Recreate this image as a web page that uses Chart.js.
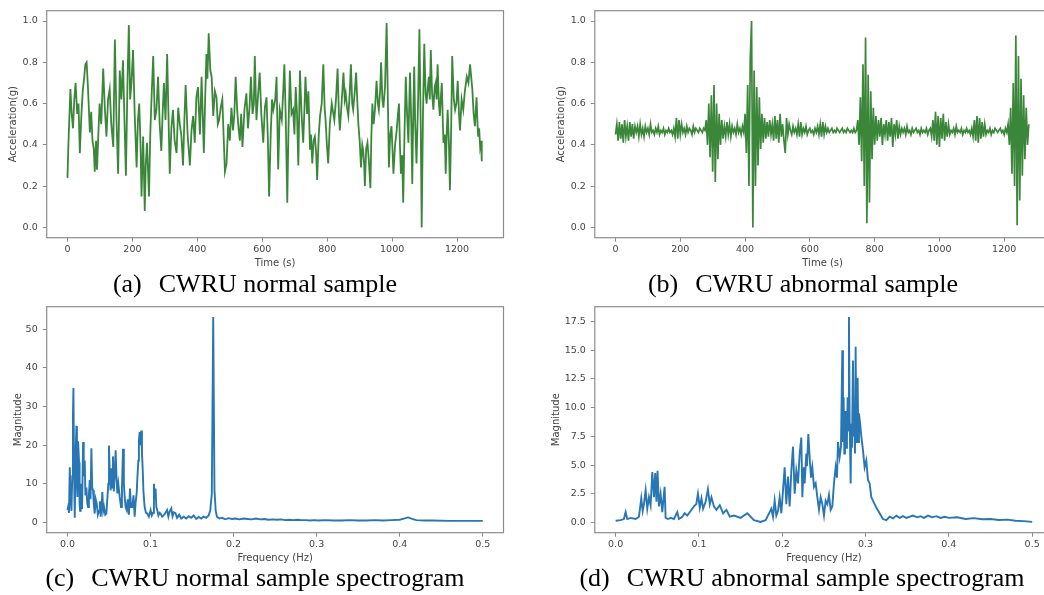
<!DOCTYPE html>
<html>
<head>
<meta charset="utf-8">
<script src="https://cdn.jsdelivr.net/npm/chart.js@4.4.0/dist/chart.umd.min.js"></script>
<style>
  html, body { margin: 0; padding: 0; background: #fff; }
  body { width: 1044px; height: 595px; position: relative; overflow: hidden; }
  canvas { position: absolute; }
  .cap {
    position: absolute;
    font-family: "Liberation Serif", "Times New Roman", serif;
    font-size: 26px;
    line-height: 26px;
    white-space: nowrap;
    color: #000;
    transform: translateX(-50%);
  }
  .cap span { margin-right: 17px; }
</style>
</head>
<body>
<canvas id="chartA" width="510" height="272" style="left:0;top:0"></canvas>
<canvas id="chartB" width="520" height="272" style="left:548px;top:0"></canvas>
<canvas id="chartC" width="510" height="272" style="left:0;top:296px"></canvas>
<canvas id="chartD" width="520" height="272" style="left:548px;top:296px"></canvas>

<div class="cap" style="left:255px;top:271px"><span>(a)</span>CWRU normal sample</div>
<div class="cap" style="left:803px;top:271px"><span>(b)</span>CWRU abnormal sample</div>
<div class="cap" style="left:255px;top:565px"><span>(c)</span>CWRU normal sample spectrogram</div>
<div class="cap" style="left:802px;top:565px"><span>(d)</span>CWRU abnormal sample spectrogram</div>

<script>
// (a) normal sample, time (s) / acceleration (g)
const timeA = [
  0, 3, 9, 13, 17, 21, 25, 30, 34, 38,
  43, 47, 51, 55, 59, 63, 69, 73, 77, 81,
  84, 88, 91, 95, 99, 104, 110, 115, 120, 125,
  130, 135, 141, 146, 151, 156, 161, 166, 171, 175,
  180, 185, 189, 193, 197, 202, 207, 213, 217, 221,
  225, 228, 233, 238, 241, 245, 251, 255, 259, 264,
  269, 274, 279, 284, 289, 293, 297, 302, 307, 311,
  315, 320, 325, 330, 336, 341, 346, 351, 356, 360,
  364, 370, 377, 382, 387, 392, 397, 402, 408, 413,
  417, 420, 424, 428, 431, 435, 440, 444, 449, 454,
  459, 463, 467, 472, 477, 481, 485, 490, 495, 500,
  505, 510, 514, 518, 523, 527, 531, 535, 539, 545,
  551, 556, 561, 565, 570, 574, 577, 582, 587, 592,
  597, 603, 608, 613, 617, 621, 626, 630, 634, 640,
  644, 649, 654, 660, 664, 668, 672, 677, 681, 685,
  690, 695, 699, 703, 707, 711, 716, 721, 726, 730,
  733, 738, 742, 747, 750, 754, 758, 762, 766, 769,
  774, 778, 783, 788, 792, 795, 799, 803, 808, 814,
  818, 822, 827, 832, 836, 839, 845, 850, 854, 857,
  861, 865, 869, 873, 877, 880, 885, 889, 893, 896,
  900, 904, 908, 911, 914, 916, 920, 924, 928, 933,
  936, 939, 943, 947, 952, 956, 959, 963, 966, 970,
  973, 978, 983, 987, 990, 994, 998, 1001, 1004, 1009,
  1014, 1018, 1021, 1024, 1027, 1031, 1034, 1038, 1042, 1046,
  1050, 1055, 1059, 1062, 1065, 1068, 1071, 1075, 1080, 1084,
  1088, 1091, 1095, 1099, 1103, 1106, 1110, 1113, 1116, 1119,
  1123, 1127, 1131, 1134, 1137, 1140, 1144, 1147, 1150, 1153,
  1156, 1158, 1162, 1165, 1168, 1171, 1175, 1178, 1182, 1185,
  1190, 1194, 1198, 1202, 1206, 1209, 1214, 1219, 1224, 1230,
  1235, 1240, 1244, 1247, 1251, 1255, 1258, 1260, 1263, 1265,
  1268, 1271, 1274, 1276
];
const accelA = [
  0.24, 0.41, 0.67, 0.55, 0.48, 0.62, 0.70, 0.55, 0.60, 0.36,
  0.55, 0.66, 0.72, 0.79, 0.80, 0.68, 0.46, 0.56, 0.42, 0.38,
  0.27, 0.42, 0.28, 0.45, 0.60, 0.50, 0.77, 0.58, 0.44, 0.62,
  0.67, 0.50, 0.39, 0.91, 0.52, 0.26, 0.76, 0.62, 0.81, 0.55,
  0.25, 0.72, 0.98, 0.62, 0.70, 0.86, 0.55, 0.29, 0.52, 0.60,
  0.40, 0.15, 0.44, 0.08, 0.30, 0.41, 0.15, 0.45, 0.63, 0.83,
  0.52, 0.57, 0.73, 0.50, 0.37, 0.55, 0.70, 0.52, 0.84, 0.55,
  0.26, 0.48, 0.57, 0.42, 0.36, 0.58, 0.50, 0.44, 0.30, 0.52,
  0.69, 0.45, 0.30, 0.47, 0.54, 0.41, 0.63, 0.68, 0.45, 0.73,
  0.52, 0.36, 0.62, 0.84, 0.72, 0.94, 0.76, 0.73, 0.54, 0.66,
  0.63, 0.50, 0.52, 0.58, 0.62, 0.44, 0.27, 0.31, 0.50, 0.42,
  0.58, 0.47, 0.55, 0.73, 0.56, 0.48, 0.42, 0.55, 0.39, 0.57,
  0.65, 0.48, 0.59, 0.73, 0.55, 0.60, 0.83, 0.52, 0.64, 0.75,
  0.55, 0.41, 0.58, 0.63, 0.44, 0.15, 0.45, 0.62, 0.57, 0.62,
  0.73, 0.28, 0.57, 0.52, 0.64, 0.79, 0.55, 0.12, 0.50, 0.76,
  0.55, 0.57, 0.45, 0.68, 0.55, 0.30, 0.76, 0.55, 0.41, 0.58,
  0.73, 0.55, 0.66, 0.38, 0.45, 0.31, 0.42, 0.44, 0.36, 0.23,
  0.45, 0.54, 0.60, 0.79, 0.58, 0.52, 0.40, 0.31, 0.50, 0.60,
  0.56, 0.52, 0.62, 0.77, 0.55, 0.47, 0.62, 0.75, 0.62, 0.65,
  0.58, 0.54, 0.64, 0.79, 0.60, 0.57, 0.66, 0.75, 0.60, 0.50,
  0.42, 0.29, 0.40, 0.37, 0.30, 0.20, 0.38, 0.41, 0.33, 0.19,
  0.44, 0.60, 0.50, 0.57, 0.71, 0.60, 0.57, 0.66, 0.80, 0.62,
  0.58, 0.68, 0.99, 0.60, 0.29, 0.45, 0.49, 0.38, 0.26, 0.40,
  0.47, 0.55, 0.60, 0.40, 0.26, 0.35, 0.12, 0.45, 0.73, 0.55,
  0.41, 0.75, 0.50, 0.21, 0.55, 0.78, 0.50, 0.31, 0.62, 0.96,
  0.50, 0.00, 0.55, 0.89, 0.65, 0.60, 0.68, 0.73, 0.62, 0.86,
  0.65, 0.57, 0.68, 0.70, 0.62, 0.79, 0.60, 0.54, 0.63, 0.70,
  0.52, 0.41, 0.45, 0.26, 0.45, 0.57, 0.40, 0.18, 0.50, 0.83,
  0.62, 0.57, 0.60, 0.71, 0.55, 0.47, 0.62, 0.57, 0.66, 0.73,
  0.70, 0.79, 0.72, 0.67, 0.55, 0.49, 0.58, 0.63, 0.50, 0.44,
  0.48, 0.39, 0.42, 0.32
];

// (b) abnormal sample, one reading every stepB seconds
const stepB = 4;
const accelB = [
  0.45, 0.50, 0.42, 0.51, 0.43, 0.50, 0.41, 0.52, 0.44, 0.49, 0.42, 0.51, 0.44, 0.50, 0.43, 0.49,
  0.46, 0.49, 0.44, 0.50, 0.45, 0.48, 0.44, 0.49, 0.46, 0.48, 0.45, 0.50, 0.46, 0.47, 0.45,
  0.48, 0.46, 0.49, 0.45, 0.47, 0.46, 0.48, 0.45, 0.47, 0.46, 0.48, 0.46, 0.47, 0.45, 0.48,
  0.44, 0.53, 0.43, 0.52, 0.45, 0.50,
  0.46, 0.48, 0.45, 0.49, 0.46, 0.48, 0.47, 0.45, 0.49, 0.46, 0.48, 0.47, 0.46, 0.48, 0.47, 0.46, 0.48, 0.47,
  0.52, 0.40, 0.60, 0.34, 0.64, 0.27, 0.69, 0.22, 0.60, 0.33, 0.55,
  0.40, 0.52, 0.43,
  0.49, 0.44, 0.51, 0.45, 0.50, 0.44, 0.49, 0.46, 0.48, 0.45, 0.50, 0.46, 0.48, 0.45, 0.49, 0.46,
  0.55, 0.36, 0.69, 0.20, 0.82, 1.00, 0.00, 0.76, 0.20, 0.68, 0.30, 0.63, 0.38,
  0.55, 0.41, 0.53, 0.43, 0.51, 0.44, 0.52, 0.45,
  0.50, 0.42, 0.54, 0.43, 0.52, 0.41, 0.55, 0.44, 0.50, 0.42, 0.36, 0.53, 0.45, 0.50,
  0.47, 0.45, 0.49, 0.46, 0.48, 0.45, 0.50, 0.44, 0.51, 0.45,
  0.48, 0.46, 0.49, 0.45, 0.47, 0.48, 0.46, 0.47, 0.45, 0.48,
  0.46, 0.49, 0.45, 0.50, 0.44, 0.51, 0.45, 0.49, 0.46, 0.48,
  0.46, 0.47, 0.48, 0.46, 0.47, 0.46, 0.48, 0.47, 0.46, 0.47,
  0.48, 0.46, 0.47, 0.46, 0.48, 0.47, 0.46, 0.47, 0.46, 0.48,
  0.46, 0.47,
  0.52, 0.40, 0.63, 0.32, 0.79, 0.20, 0.92, 0.02, 0.74, 0.12, 0.66, 0.33, 0.58, 0.40, 0.54, 0.42,
  0.52, 0.44, 0.53, 0.40, 0.50, 0.45, 0.52, 0.42, 0.51, 0.44,
  0.53, 0.39, 0.50, 0.45, 0.52, 0.43, 0.49, 0.45, 0.48, 0.46,
  0.48, 0.45, 0.49, 0.46, 0.47, 0.45, 0.48, 0.46, 0.47, 0.48,
  0.46, 0.47, 0.45, 0.48, 0.46, 0.47, 0.46, 0.48, 0.45, 0.47,
  0.48, 0.44, 0.52, 0.42, 0.56, 0.40, 0.54, 0.39, 0.53, 0.43, 0.55, 0.42, 0.51, 0.44, 0.50, 0.45,
  0.47, 0.46, 0.48, 0.45, 0.49, 0.46, 0.47, 0.46, 0.48, 0.45, 0.47, 0.46, 0.48, 0.46, 0.47, 0.45, 0.48,
  0.44, 0.52, 0.42, 0.54, 0.41, 0.53, 0.43, 0.51, 0.44, 0.50, 0.45,
  0.47, 0.46, 0.48, 0.45, 0.47, 0.46, 0.48, 0.47, 0.46, 0.47, 0.48, 0.46, 0.47, 0.45, 0.48, 0.46,
  0.50, 0.40, 0.58, 0.26, 0.70, 0.20, 0.93, 0.01, 0.83, 0.13, 0.72, 0.25, 0.64, 0.33, 0.58, 0.40, 0.50
];

// (c) normal sample spectrum, frequency (Hz) / magnitude
const freqC = [
  0, 0.0008, 0.0018, 0.0028, 0.0038, 0.0048, 0.0058, 0.0066, 0.0072, 0.0080,
  0.0088, 0.0098, 0.0108, 0.0114, 0.0120, 0.0128, 0.0140, 0.0146, 0.0152, 0.0160,
  0.0168, 0.0176, 0.0188, 0.0196, 0.0208, 0.0216, 0.0228, 0.0238, 0.0248, 0.0258,
  0.0268, 0.0278, 0.0288, 0.0298, 0.0308, 0.0318, 0.0328, 0.0340, 0.0352, 0.0366,
  0.0380, 0.0390, 0.0400, 0.0410, 0.0420, 0.0430, 0.0440, 0.0455, 0.0468, 0.0480,
  0.0492, 0.0500, 0.0510, 0.0520, 0.0530, 0.0540, 0.0548, 0.0558, 0.0568, 0.0580,
  0.0590, 0.0600, 0.0612, 0.0629, 0.0645, 0.0656, 0.0669, 0.0679, 0.0689, 0.0700,
  0.0713, 0.0725, 0.0740, 0.0753, 0.0765, 0.0781, 0.0795, 0.0809, 0.0820, 0.0833,
  0.0843, 0.0853, 0.0860, 0.0869, 0.0878, 0.0889, 0.0897, 0.0905, 0.0915, 0.0929,
  0.0945, 0.0961, 0.0980, 0.1001, 0.1015, 0.1030, 0.1041, 0.1050, 0.1061, 0.1070,
  0.1081, 0.1095, 0.1110, 0.1121, 0.1140, 0.1160, 0.1180, 0.1200, 0.1215, 0.1230,
  0.1250, 0.1265, 0.1280, 0.1300, 0.1320, 0.1345, 0.1370, 0.1400, 0.1430, 0.1460,
  0.1490, 0.1520, 0.1550, 0.1580, 0.1610, 0.1640, 0.1670, 0.1700, 0.1720, 0.1738,
  0.1755, 0.1770, 0.1785, 0.1800, 0.1830, 0.1860, 0.1900, 0.1940, 0.1980, 0.2020,
  0.2070, 0.2120, 0.2170, 0.2220, 0.2270, 0.2320, 0.2370, 0.2420, 0.2470, 0.2520,
  0.2570, 0.2620, 0.2670, 0.2720, 0.2770, 0.2820, 0.2870, 0.2920, 0.2970, 0.3020,
  0.3100, 0.3200, 0.3300, 0.3400, 0.3500, 0.3600, 0.3700, 0.3800, 0.3900, 0.4000,
  0.4050, 0.4100, 0.4150, 0.4200, 0.4300, 0.4400, 0.4600, 0.4800, 0.5000
];
const magC = [
  3.2, 4.0, 2.5, 14.3, 6.0, 3.0, 12.0, 28.0, 34.8, 12.0,
  1.2, 18.0, 25.0, 10.0, 6.6, 21.0, 15.6, 5.0, 3.0, 8.0,
  10.0, 3.5, 20.8, 12.0, 16.0, 7.0, 9.0, 5.0, 4.0, 7.0,
  11.0, 6.0, 19.2, 9.0, 8.3, 4.5, 2.3, 6.0, 4.9, 2.0,
  3.0, 5.5, 1.5, 4.0, 7.9, 3.0, 4.0, 2.0, 2.3, 6.0,
  10.0, 19.9, 12.0, 8.3, 14.0, 9.0, 17.1, 8.0, 11.8, 18.7,
  12.0, 7.5, 10.0, 6.6, 4.0, 9.0, 19.1, 10.0, 6.6, 4.0,
  3.2, 6.0, 2.0, 8.8, 4.0, 4.0, 7.0, 1.5, 5.0, 7.5,
  12.0, 16.0, 21.0, 23.4, 20.0, 23.8, 18.0, 14.3, 8.0, 4.0,
  2.5, 2.3, 1.5, 3.2, 1.8, 2.5, 10.0, 6.0, 8.8, 4.0,
  3.2, 1.8, 2.5, 2.3, 1.5, 1.9, 2.5, 3.2, 1.5, 2.8,
  3.6, 1.6, 2.6, 2.4, 1.2, 2.0, 1.0, 1.5, 1.0, 1.6,
  1.2, 1.8, 0.9, 1.4, 1.0, 1.5, 1.2, 1.8, 3.2, 7.5,
  53.2, 8.3, 3.0, 1.5, 1.0, 1.2, 0.8, 1.1, 0.9, 1.0,
  0.8, 1.0, 0.9, 0.8, 1.0, 0.8, 0.9, 0.7, 0.8, 0.7,
  0.8, 0.6, 0.7, 0.6, 0.7, 0.6, 0.6, 0.5, 0.6, 0.5,
  0.6, 0.5, 0.5, 0.6, 0.5, 0.5, 0.6, 0.5, 0.6, 0.7,
  1.0, 1.3, 0.9, 0.6, 0.5, 0.5, 0.4, 0.4, 0.4
];

// (d) abnormal sample spectrum
const freqD = [
  0, 0.006, 0.010, 0.012, 0.014, 0.018, 0.024, 0.028, 0.0308, 0.0325,
  0.034, 0.036, 0.038, 0.040, 0.042, 0.044, 0.046, 0.0475, 0.049, 0.0503,
  0.052, 0.054, 0.056, 0.0588, 0.060, 0.063, 0.066, 0.070, 0.074, 0.076,
  0.080, 0.083, 0.086, 0.090, 0.094, 0.0968, 0.0988, 0.101, 0.103, 0.105,
  0.108, 0.1108, 0.113, 0.115, 0.118, 0.121, 0.125, 0.129, 0.133, 0.137,
  0.142, 0.150, 0.158, 0.166, 0.174, 0.180, 0.1849, 0.1869, 0.1889, 0.1909,
  0.1929, 0.1949, 0.1969, 0.1989, 0.2009, 0.2029, 0.2049, 0.2069, 0.2089, 0.2109,
  0.2129, 0.2149, 0.2169, 0.2189, 0.2209, 0.2229, 0.2241, 0.2257, 0.2269, 0.2289,
  0.2297, 0.2313, 0.2329, 0.2345, 0.2361, 0.2381, 0.2401, 0.2421, 0.2441, 0.2461,
  0.2481, 0.2501, 0.2521, 0.2541, 0.2561, 0.2581, 0.2601, 0.2621, 0.2641, 0.2657,
  0.2669, 0.2689, 0.2705, 0.2721, 0.2729, 0.2737, 0.2745, 0.2753, 0.2761, 0.2769,
  0.2777, 0.2785, 0.2793, 0.2801, 0.2809, 0.2821, 0.2829, 0.2837, 0.2849, 0.2857,
  0.2865, 0.2873, 0.2881, 0.2889, 0.2897, 0.2905, 0.2913, 0.2921, 0.2935, 0.2949,
  0.2969, 0.2989, 0.3009, 0.3029, 0.3049, 0.3069, 0.3089, 0.3109, 0.3129, 0.3169,
  0.3209, 0.3249, 0.3289, 0.3330, 0.3369, 0.3410, 0.3449, 0.3490, 0.3569, 0.3620,
  0.3660, 0.3700, 0.3750, 0.3800, 0.3850, 0.3900, 0.3950, 0.4000, 0.4100, 0.4200,
  0.4300, 0.4400, 0.4500, 0.4600, 0.4700, 0.4800, 0.4900, 0.5000
];
const magD = [
  0.15, 0.2, 0.3, 0.9, 0.3, 0.4, 0.3, 0.5, 2.1, 1.0,
  1.6, 2.8, 1.2, 2.2, 1.5, 4.4, 2.2, 4.3, 1.8, 4.5,
  1.4, 2.5, 0.9, 3.1, 0.4, 0.3, 0.4, 0.3, 0.9, 0.3,
  0.5, 0.8, 0.6, 1.0, 1.4, 1.6, 2.5, 1.3, 2.1, 1.2,
  1.8, 2.9, 1.6, 2.2, 1.4, 1.1, 1.5, 0.8, 1.1, 0.5,
  0.6, 0.4, 0.8, 0.2, 0.05, 0.2, 0.9, 1.2, 0.5, 1.9,
  0.6, 1.0, 2.2, 0.8, 2.8, 4.8, 1.6, 4.0, 1.4, 4.5,
  6.6, 2.5, 4.5, 3.4, 6.0, 7.4, 2.2, 4.8, 3.4, 6.0,
  4.9, 7.7, 5.7, 3.9, 4.8, 3.1, 3.4, 2.2, 1.1, 2.2,
  1.6, 0.6, 1.9, 1.6, 2.4, 1.1, 1.4, 3.4, 4.8, 3.9,
  7.0, 5.7, 6.6, 15.0, 7.0, 10.9, 6.0, 8.3, 9.7, 6.5,
  7.4, 10.9, 8.0, 17.9, 9.0, 3.4, 8.6, 6.5, 14.1, 7.5,
  9.0, 6.0, 15.3, 7.0, 9.7, 12.6, 7.0, 9.5, 8.6, 7.5,
  6.3, 4.8, 5.4, 3.7, 3.4, 2.2, 1.9, 1.6, 1.3, 0.8,
  0.3, 0.2, 0.5, 0.35, 0.6, 0.4, 0.55, 0.4, 0.6, 0.45,
  0.55, 0.4, 0.6, 0.45, 0.55, 0.4, 0.5, 0.4, 0.45, 0.3,
  0.38, 0.28, 0.3, 0.22, 0.25, 0.15, 0.12, 0.05
];

// tick labels
const timeTicks = [0, 200, 400, 600, 800, 1000, 1200];
const accelTicks = [0, 0.2, 0.4, 0.6, 0.8, 1.0];
const freqTicks = [0, 0.1, 0.2, 0.3, 0.4, 0.5];
const magTicksC = [0, 10, 20, 30, 40, 50];
const magTicksD = [0, 2.5, 5, 7.5, 10, 12.5, 15, 17.5];

const green = '#3a873a';
const blue = '#2876b4';
const axisColor = '#8c8c8c';
const textColor = '#444';
const tickFont = { family: 'DejaVu Sans', size: 9.5 };
const titleFont = { family: 'DejaVu Sans', size: 10 };

// matplotlib style box round the plot area
const frame = {
  id: 'frame',
  afterDraw(chart) {
    const { ctx, chartArea: a } = chart;
    ctx.save();
    ctx.strokeStyle = axisColor;
    ctx.lineWidth = 1.2;
    ctx.strokeRect(a.left, a.top, a.right - a.left, a.bottom - a.top);
    ctx.restore();
  }
};

function toPoints(xs, ys) {
  return ys.map((y, i) => ({ x: xs[i], y: y }));
}

function drawPanel(id, p) {
  new Chart(document.getElementById(id), {
    type: 'line',
    data: {
      datasets: [{
        data: p.points,
        borderColor: p.color,
        borderWidth: p.lineWidth,
        pointRadius: 0,
        tension: 0,
        fill: false
      }]
    },
    options: {
      responsive: false,
      animation: false,
      events: [],
      layout: { padding: { top: p.padTop, right: p.padRight, bottom: 0, left: 0 } },
      plugins: { legend: { display: false }, tooltip: { enabled: false } },
      scales: {
        x: {
          type: 'linear',
          min: p.xMin,
          max: p.xMax,
          afterBuildTicks: (s) => { s.ticks = p.xTicks.map((v) => ({ value: v })); },
          afterFit: (s) => { s.height = p.xAxisH; },
          ticks: { autoSkip: false, maxRotation: 0, padding: 2, color: textColor, font: tickFont, callback: p.xFmt },
          grid: { drawOnChartArea: false, tickLength: 4, color: axisColor },
          border: { display: false },
          title: { display: true, text: p.xTitle, color: textColor, font: titleFont, padding: { top: 0, bottom: p.xTitlePad } }
        },
        y: {
          type: 'linear',
          min: p.yMin,
          max: p.yMax,
          afterBuildTicks: (s) => { s.ticks = p.yTicks.map((v) => ({ value: v })); },
          afterFit: (s) => { s.width = p.yAxisW; },
          ticks: { autoSkip: false, padding: 5, color: textColor, font: tickFont, callback: p.yFmt },
          grid: { drawOnChartArea: false, tickLength: 4, color: axisColor },
          border: { display: false },
          title: { display: true, text: p.yTitle, color: textColor, font: titleFont, padding: { top: p.yTitlePad, bottom: 0 } }
        }
      }
    },
    plugins: [frame]
  });
}

const fmt0 = (v) => String(v);
const fmt1 = (v) => v.toFixed(1);

drawPanel('chartA', {
  points: toPoints(timeA, accelA), color: green, lineWidth: 1.8,
  xMin: -64, xMax: 1343, yMin: -0.05, yMax: 1.05,
  xTicks: timeTicks, yTicks: accelTicks, xFmt: fmt0, yFmt: fmt1,
  xTitle: 'Time (s)', yTitle: 'Acceleration(g)',
  padTop: 10, padRight: 6.5, yAxisW: 46.7, xAxisH: 34.3, xTitlePad: 3, yTitlePad: 7.6
});

drawPanel('chartB', {
  points: accelB.map((v, i) => ({ x: i * stepB, y: v })), color: green, lineWidth: 1.7,
  xMin: -64, xMax: 1343, yMin: -0.05, yMax: 1.05,
  xTicks: timeTicks, yTicks: accelTicks, xFmt: fmt0, yFmt: fmt1,
  xTitle: 'Time (s)', yTitle: 'Acceleration(g)',
  padTop: 10, padRight: 17.5, yAxisW: 46.8, xAxisH: 34.3, xTitlePad: 3, yTitlePad: 7.7
});

drawPanel('chartC', {
  points: toPoints(freqC, magC), color: blue, lineWidth: 1.9,
  xMin: -0.025, xMax: 0.525, yMin: -2.66, yMax: 55.86,
  xTicks: freqTicks, yTicks: magTicksC, xFmt: fmt1, yFmt: fmt0,
  xTitle: 'Frequency (Hz)', yTitle: 'Magnitude',
  padTop: 9.7, padRight: 6.5, yAxisW: 46.7, xAxisH: 35.3, xTitlePad: 3.7, yTitlePad: 12
});

drawPanel('chartD', {
  points: toPoints(freqD, magD), color: blue, lineWidth: 1.9,
  xMin: -0.025, xMax: 0.525, yMin: -0.89, yMax: 18.79,
  xTicks: freqTicks, yTicks: magTicksD, xFmt: fmt1, yFmt: fmt1,
  xTitle: 'Frequency (Hz)', yTitle: 'Magnitude',
  padTop: 9.7, padRight: 15, yAxisW: 46.8, xAxisH: 35.3, xTitlePad: 3.7, yTitlePad: 2.7
});
</script>
</body>
</html>
